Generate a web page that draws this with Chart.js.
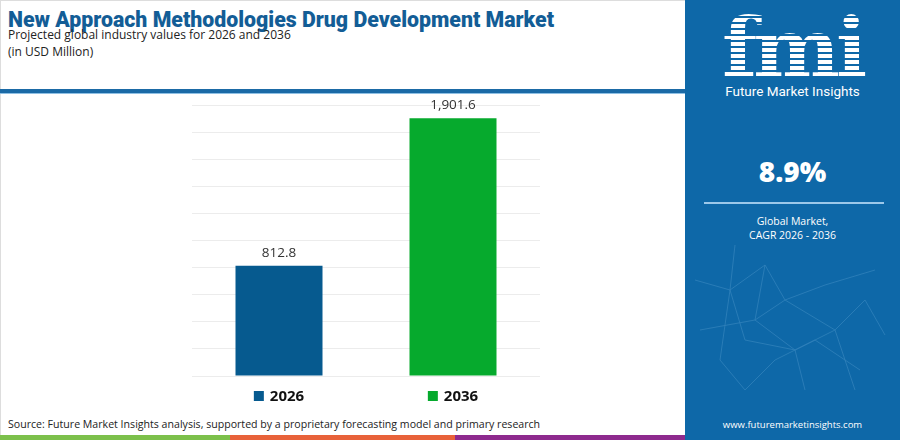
<!DOCTYPE html>
<html>
<head>
<meta charset="utf-8">
<script src="https://cdn.jsdelivr.net/npm/chart.js"></script>
<style>
  body{ margin:0; width:900px; height:440px; overflow:hidden; background:#fff; font-family:"Open Sans", sans-serif; position:relative; }
  #frame{ position:absolute; left:0; top:0; width:899px; height:439px; border-top:1px solid #ddd; border-left:1px solid #ddd; }
  h1{ position:absolute; left:8px; top:7px; margin:0; font-family:Roboto, sans-serif; font-size:21.3px; font-weight:900; color:#135d96; white-space:nowrap; }
  .sub{ position:absolute; left:8px; font-size:12px; color:#222; white-space:nowrap; }
  #rule{ position:absolute; left:0; top:89px; width:685px; height:4px; background:#1b6aa6; border-bottom:1px solid #8fc0e4; }
  #chartBox{ position:absolute; left:0; top:95px; width:685px; height:320px; }
  #source{ position:absolute; left:8px; top:417px; font-size:10.6px; color:#222; white-space:nowrap; }
  .strip{ position:absolute; top:435px; height:5px; }
  #panel{ position:absolute; left:685px; top:0; width:215px; height:440px; background:#0e68a8; color:#fff; text-align:center; overflow:hidden; }
  #net{ position:absolute; left:0; top:240px; }
  #logo{ position:absolute; left:0; width:215px; top:12px; font-family:"DejaVu Serif", serif; font-weight:bold; font-size:82px; line-height:72px; letter-spacing:-4px;
    background:repeating-linear-gradient(#fff 0 4px, transparent 4px 6px); -webkit-background-clip:text; background-clip:text; color:transparent; }
  #brand{ position:absolute; left:0; width:215px; top:83px; font-family:Roboto, sans-serif; font-size:13.5px; color:#fff; }
  #cagr{ position:absolute; left:0; width:215px; top:152px; font-size:28px; font-weight:800; }
  #pline{ position:absolute; left:19px; top:202px; width:180px; height:2px; background:#9cc8ea; }
  .ptxt{ position:absolute; left:0; width:215px; font-size:10.5px; }
  #url{ position:absolute; left:0; width:215px; top:418px; font-size:9.5px; }
</style>
</head>
<body>
<div id="frame"></div>
<h1>New Approach Methodologies Drug Development Market</h1>
<div class="sub" style="top:26px">Projected global industry values for 2026 and 2036</div>
<div class="sub" style="top:43px">(in USD Million)</div>
<div id="rule"></div>
<div id="chartBox"><canvas id="c"></canvas></div>
<div id="source">Source: Future Market Insights analysis, supported by a proprietary forecasting model and primary research</div>
<div class="strip" style="left:0;width:230px;background:#7cc04b"></div>
<div class="strip" style="left:230px;width:225px;background:#e8623a"></div>
<div class="strip" style="left:455px;width:230px;background:#8e2a8e"></div>
<div id="panel">
  <svg id="net" width="215" height="170" stroke="#5a9fd0" stroke-width="0.8" fill="none" opacity="0.45">
    <polyline points="10,40 45,50 80,25 100,60 140,45 190,30"/>
    <polyline points="45,50 35,120 60,150 90,120 130,100 175,130"/>
    <polyline points="80,25 70,80 110,110 150,90 180,60 200,95"/>
    <polyline points="15,90 70,80 100,60 150,90 170,150"/>
    <polyline points="50,5 45,50 60,100 110,110 120,150"/>
  </svg>
  <div id="logo">fmi</div>
  <div id="brand">Future Market Insights</div>
  <div id="cagr">8.9%</div>
  <div id="pline"></div>
  <div class="ptxt" style="top:214px">Global Market,</div>
  <div class="ptxt" style="top:228px">CAGR 2026 - 2036</div>
  <div id="url">www.futuremarketinsights.com</div>
</div>

<script>
const years = ['2026', '2036'];
const values = [812.8, 1901.6];
const barColors = ['#065a8f', '#06aa2d'];
const yTicks = { min: 0, max: 2000, step: 200 };

// value above each bar + coloured square labels under each bar
const labelPlugin = {
  id: 'labels',
  afterDatasetsDraw(chart) {
    const ctx = chart.ctx;
    const meta = chart.getDatasetMeta(0);
    const xs = chart.scales.x;
    ctx.save();
    meta.data.forEach((bar, i) => {
      ctx.font = '13.5px "Open Sans"';
      ctx.fillStyle = '#333';
      ctx.textAlign = 'center';
      ctx.textBaseline = 'bottom';
      const txt = values[i].toLocaleString('en-US', { minimumFractionDigits: 1 });
      ctx.fillText(txt, bar.x, bar.y - 6);

      const cx = xs.getPixelForValue(i);
      ctx.font = 'bold 15px "Open Sans"';
      const w = ctx.measureText(years[i]).width;
      const total = 11 + 5 + w;
      const left = cx - total / 2;
      const y = chart.chartArea.bottom + 20;
      ctx.fillStyle = barColors[i];
      ctx.fillRect(left, y - 5, 10, 10);
      ctx.fillStyle = '#111';
      ctx.textAlign = 'left';
      ctx.textBaseline = 'middle';
      ctx.fillText(years[i], left + 16, y + 1);
    });
    ctx.restore();
  }
};

new Chart(document.getElementById('c'), {
  type: 'bar',
  data: {
    labels: years,
    datasets: [{
      data: values,
      backgroundColor: barColors,
      barPercentage: 0.5,
      categoryPercentage: 1.0
    }]
  },
  options: {
    responsive: true,
    maintainAspectRatio: false,
    animation: false,
    layout: { padding: { left: 192, right: 145, top: 10, bottom: 39 } },
    plugins: { legend: { display: false }, tooltip: { enabled: false } },
    scales: {
      x: { display: false },
      y: {
        min: yTicks.min, max: yTicks.max,
        ticks: { display: false, stepSize: yTicks.step },
        grid: { color: '#ececec', drawTicks: false, lineWidth: 1 },
        border: { display: false }
      }
    }
  },
  plugins: [labelPlugin]
});
</script>
</body>
</html>
